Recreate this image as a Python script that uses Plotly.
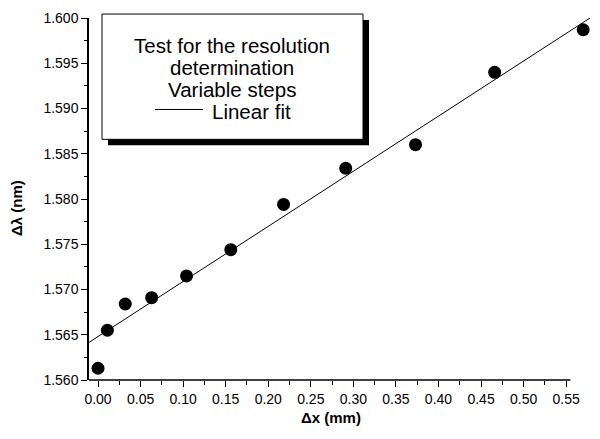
import plotly.graph_objects as go
import numpy as np

# ---- data ----
dx_mm = [0.000, 0.011, 0.032, 0.063, 0.104, 0.156, 0.218, 0.291, 0.373, 0.466, 0.570]
dlambda_nm = [1.5613, 1.5655, 1.5684, 1.5691, 1.5715, 1.5744, 1.5794, 1.5834, 1.5860, 1.5940, 1.5987]
fit_intercept = 1.5648
fit_slope = 0.0609
fit_x_range = [-0.0106, 0.578]

x_major_ticks = [0.00, 0.05, 0.10, 0.15, 0.20, 0.25, 0.30, 0.35, 0.40, 0.45, 0.50, 0.55]
x_minor_ticks = [0.025, 0.075, 0.125, 0.175, 0.225, 0.275, 0.325, 0.375, 0.425, 0.475, 0.525]
y_major_ticks = [1.560, 1.565, 1.570, 1.575, 1.580, 1.585, 1.590, 1.595, 1.600]

legend_lines = ["Test for the resolution", "determination", "Variable steps"]
fit_label = "Linear fit"
x_title = "Δx (mm)"
y_title = "Δλ (nm)"

XR = [-0.0106, 0.578]
YR = [1.560, 1.600]

W, H = 600, 439
PL, PR, PT, PB = 89, 590, 16, 380

def px_x(px):
    return (px - PL) / (PR - PL)

def px_y(py):
    return (PB - py) / (PB - PT)

FONT = "Liberation Sans, Arial, sans-serif"

fig = go.Figure()

fx = np.array(fit_x_range)
fig.add_trace(go.Scatter(x=fx, y=fit_intercept + fit_slope * fx, mode="lines",
                         line=dict(color="black", width=1), showlegend=False,
                         hoverinfo="skip"))
fig.add_trace(go.Scatter(x=dx_mm, y=dlambda_nm, mode="markers",
                         marker=dict(color="black", size=13, line=dict(width=0)),
                         showlegend=False, cliponaxis=False))

shapes = []
x_end = (0.555 - XR[0]) / (XR[1] - XR[0])
shapes.append(dict(type="line", xref="paper", yref="paper", x0=0, x1=x_end, y0=0, y1=0,
                   line=dict(color="black", width=1.5)))
shapes.append(dict(type="rect", xref="paper", yref="paper",
                   x0=px_x(108), x1=px_x(369), y0=px_y(144), y1=px_y(18),
                   fillcolor="black", line=dict(width=0), layer="above"))
shapes.append(dict(type="rect", xref="paper", yref="paper",
                   x0=px_x(102), x1=px_x(363), y0=px_y(138), y1=px_y(12),
                   fillcolor="white", line=dict(color="black", width=1), layer="above"))
shapes.append(dict(type="line", xref="paper", yref="paper",
                   x0=px_x(155), x1=px_x(203), y0=px_y(108), y1=px_y(108),
                   line=dict(color="black", width=1), layer="above"))

annotations = []
centers = [44, 66, 88]
for txt, cy in zip(legend_lines, centers):
    annotations.append(dict(text=txt, xref="paper", yref="paper", x=px_x(232), y=px_y(cy),
                            xanchor="center", yanchor="middle", showarrow=False,
                            font=dict(family=FONT, size=20.5, color="black")))
annotations.append(dict(text=fit_label, xref="paper", yref="paper", x=px_x(210), y=px_y(110),
                        xanchor="left", yanchor="middle", showarrow=False,
                        font=dict(family=FONT, size=20.5, color="black")))
annotations.append(dict(text="<b>" + x_title + "</b>", xref="paper", yref="paper",
                        x=px_x(331), y=px_y(418), xanchor="center", yanchor="middle",
                        showarrow=False, font=dict(family=FONT, size=15, color="black")))
annotations.append(dict(text="<b>" + y_title + "</b>", xref="paper", yref="paper",
                        x=px_x(17), y=px_y(207), xanchor="center", yanchor="middle",
                        textangle=-90, showarrow=False,
                        font=dict(family=FONT, size=15, color="black")))

fig.update_layout(
    width=W, height=H,
    margin=dict(l=PL, r=W - PR, t=PT, b=H - PB),
    paper_bgcolor="white", plot_bgcolor="white",
    font=dict(family=FONT, size=14, color="black"),
    shapes=shapes, annotations=annotations,
    xaxis=dict(range=XR, showgrid=False, zeroline=False, showline=False,
               tickmode="array", tickvals=x_major_ticks, tickformat=".2f",
               ticks="outside", ticklen=6, tickwidth=1.2, tickcolor="black",
               minor=dict(tickmode="array", tickvals=x_minor_ticks, ticks="outside",
                          ticklen=3.5, tickwidth=1.2, tickcolor="black"),
               tickfont=dict(family=FONT, size=14)),
    yaxis=dict(range=YR, showgrid=False, zeroline=False, showline=True,
               linecolor="black", linewidth=1.5,
               tickmode="array", tickvals=y_major_ticks, tickformat=".3f",
               ticks="outside", ticklen=6, tickwidth=1.2, tickcolor="black",
               minor=dict(dtick=0.0025, tick0=1.56, ticks="outside",
                          ticklen=3.5, tickwidth=1.2, tickcolor="black"),
               tickfont=dict(family=FONT, size=14)),
)

fig.write_html("out.html", config={"displayModeBar": False},
               post_script="document.body.style.margin='0px';")
